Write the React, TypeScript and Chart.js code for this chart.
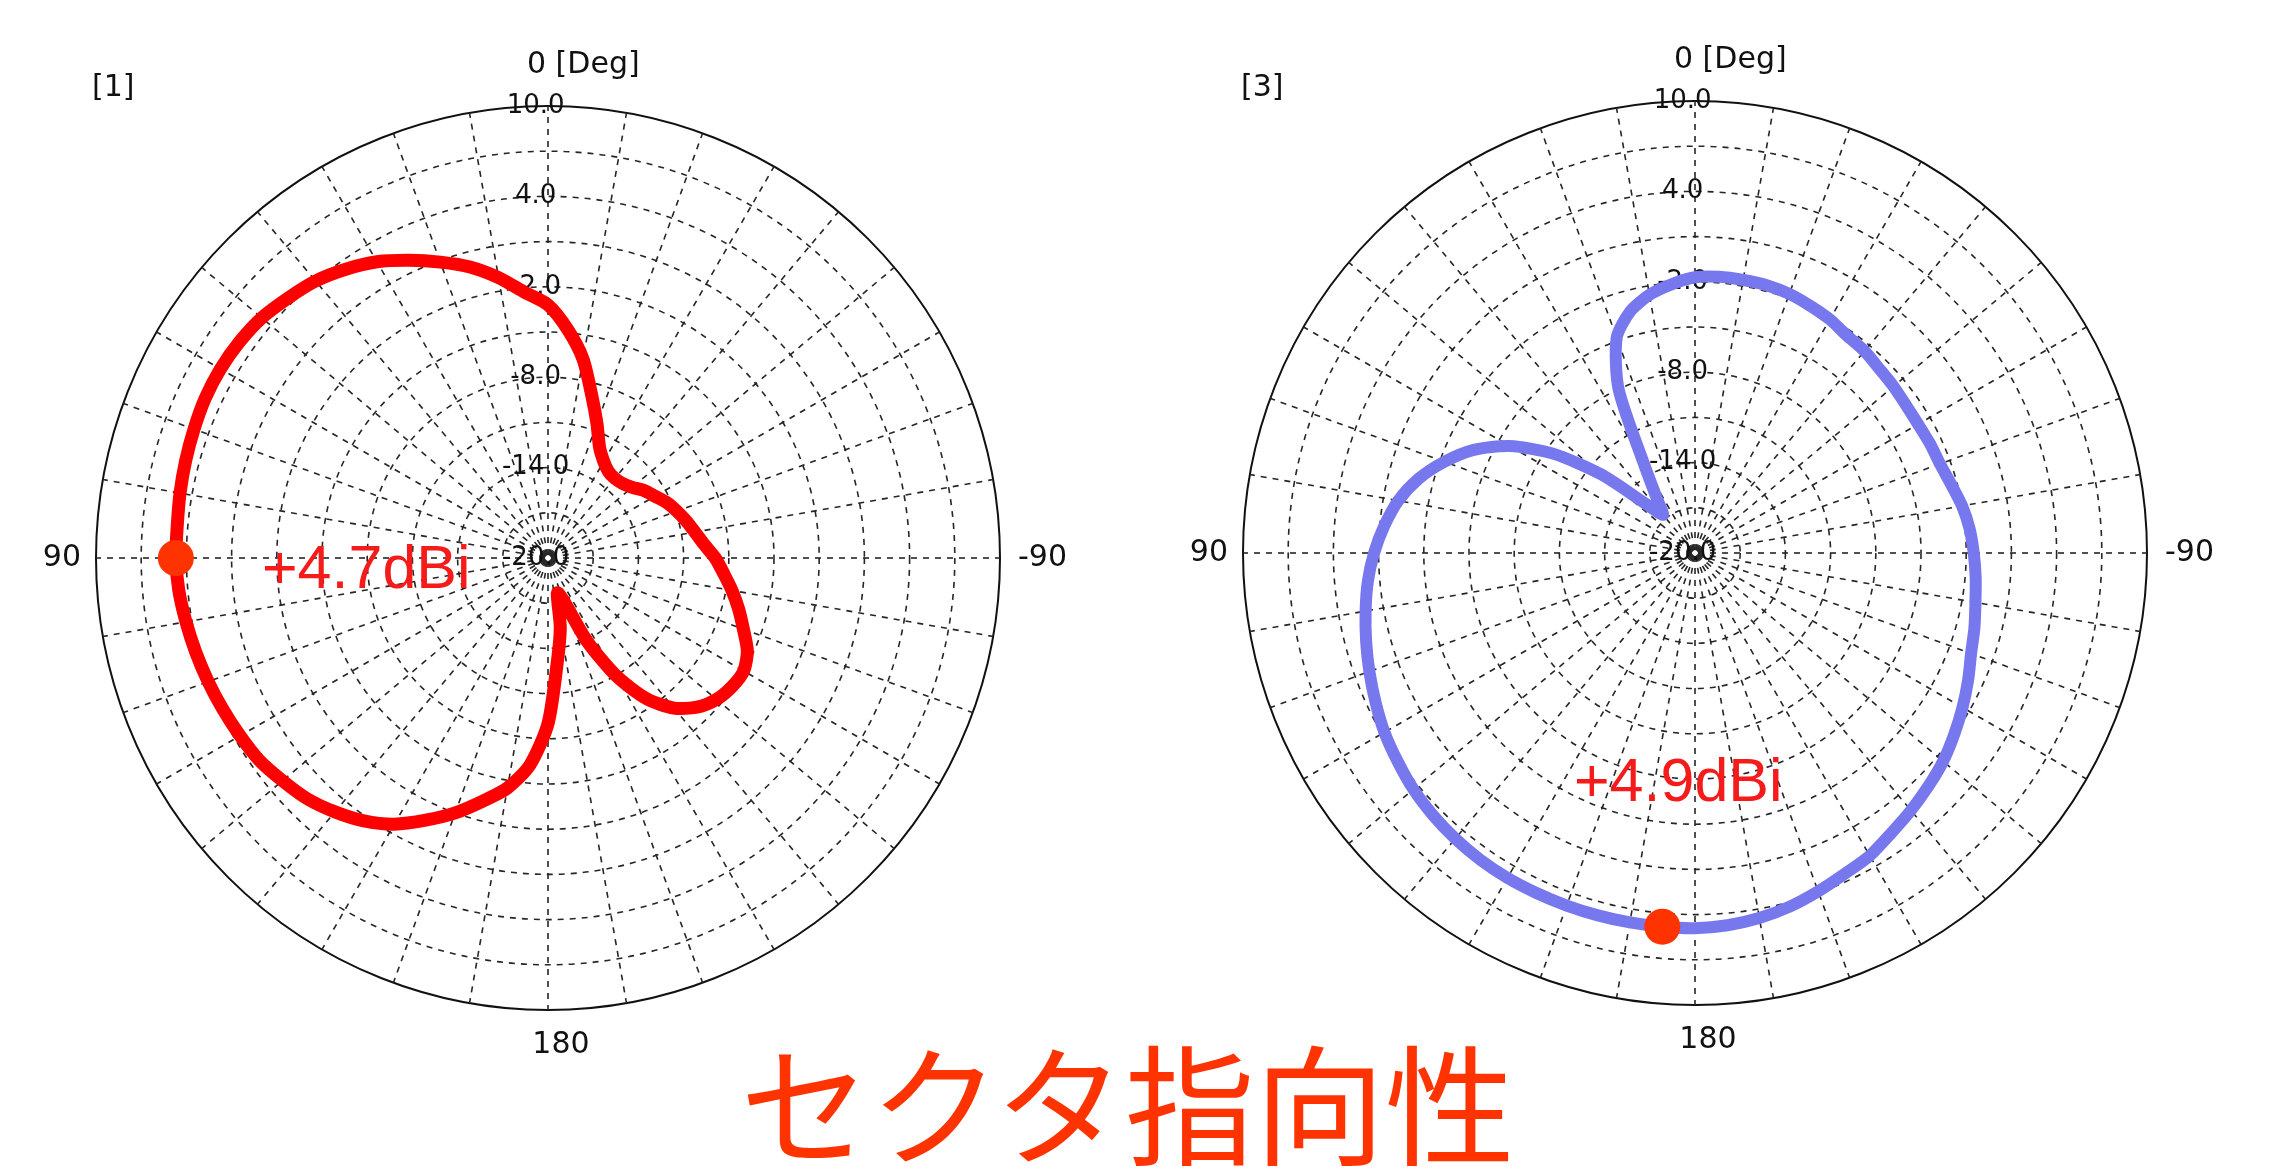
import React, { useEffect, useRef } from 'react';
import { Chart, registerables } from 'chart.js';

Chart.register(...registerables);

// Azimuth (degrees, counter-clockwise from the top, as in the reference)
const ANGLES = [
  0, 5, 10, 15, 20, 25, 30, 35, 40, 45, 50, 55, 60, 65, 70, 75, 80, 85,
  90, 95, 100, 105, 110, 115, 120, 125, 130, 135, 140, 145, 150, 155, 160, 165, 170, 175,
  180, 185, 190, 195, 200, 205, 210, 215, 220, 225, 230, 235, 240, 245, 250, 255, 260, 265,
  270, 275, 280, 285, 290, 295, 300, 305, 310, 315, 320, 325, 330, 335, 340, 345, 350, 355,
];

// Panel [1] gain (dBi) for each angle in ANGLES
const GAIN_1 = [
  -3.2, -2.3, -1.1, 0.0, 0.9, 1.8, 2.7, 3.4, 4.0, 4.4, 4.8, 5.0, 5.1, 5.1, 5.0, 4.9, 4.8, 4.7,
  4.7, 4.6, 4.4, 4.2, 4.0, 3.8, 3.6, 3.4, 3.0, 2.6, 2.0, 1.3, 0.4, -0.8, -2.0, -3.3, -4.5, -6.2,
  -9.0, -13.0, -15.3, -17.6, -17.0, -14.0, -11.0, -8.6, -7.0, -6.0, -5.4, -5.1, -5.0, -5.4, -6.2, -6.9, -7.6, -8.3,
  -8.9, -9.6, -10.1, -10.5, -10.9, -11.3, -11.8, -12.2, -12.7, -13.0, -13.1, -13.0, -12.6, -11.9, -10.5, -8.8, -6.6, -4.8,
];

// Panel [3] gain (dBi) for each angle in ANGLES
const GAIN_3 = [
  -1.7, -2.1, -2.6, -3.4, -4.8, -8.0, -13.3, -15.6, -16.7, -15.4, -11.9, -8.5, -5.8, -3.8, -2.3, -1.0, 0.0, 0.7,
  1.3, 1.8, 2.2, 2.6, 3.0, 3.4, 3.8, 4.1, 4.4, 4.6, 4.75, 4.85, 4.9, 4.9, 4.9, 4.9, 4.9, 4.9,
  4.9, 4.8, 4.6, 4.3, 3.9, 3.5, 3.2, 2.7, 2.3, 1.9, 1.5, 1.0, 0.5, 0.0, -0.5, -0.8, -1.1, -1.3,
  -1.5, -1.7, -2.0, -2.4, -2.7, -2.8, -2.9, -2.9, -2.8, -2.7, -2.5, -2.4, -2.1, -1.9, -1.7, -1.6, -1.6, -1.6,
];

const PEAK_1 = { angle: 90, gain: 4.7, text: '+4.7dBi' };
const PEAK_3 = { angle: 175, gain: 4.9, text: '+4.9dBi' };

const R_MIN = -20;
const R_MAX = 10;
const R_STEP = 3;
const TICK_LABELS = [10, 4, -2, -8, -14, -20];
const DIR_TOP = '0 [Deg]';
const DIR_RIGHT = '-90';
const DIR_BOTTOM = '180';
const DIR_LEFT = '90';
const TITLE = 'セクタ指向性';

const W = 2278;
const H = 1170;
const HALF = 1139;
const RADIUS = 452;
const TICK_SIZE = 26;

type PanelProps = {
  left: number;
  cx: number;
  cy: number;
  gains: number[];
  peak: { angle: number; gain: number; text: string };
  lineColor: string;
  lineWidth: number;
  tag: string;
  tagX: number;
  tagY: number;
  gainX: number;
  gainY: number;
};

const polarText = {
  id: 'polarText',
  afterDatasetsDraw(chart: any, _args: any, opts: any) {
    const s = chart.scales.r;
    const ctx = chart.ctx;
    const r = s.drawingArea;
    ctx.save();
    ctx.fillStyle = '#111';
    ctx.font = '30px "DejaVu Sans"';
    ctx.textBaseline = 'middle';
    ctx.textAlign = 'left';
    ctx.fillText(DIR_TOP, s.xCenter - 21, s.yCenter - r - 41);
    ctx.fillText(DIR_RIGHT, s.xCenter + r + 18, s.yCenter);
    ctx.textAlign = 'right';
    ctx.fillText(DIR_LEFT, s.xCenter - r - 15, s.yCenter);
    ctx.textAlign = 'center';
    ctx.fillText(DIR_BOTTOM, s.xCenter + 13, s.yCenter + r + 35);
    ctx.textAlign = 'left';
    ctx.fillText(opts.tag, opts.tagX, opts.tagY);
    ctx.font = '61px "Liberation Sans"';
    ctx.fillStyle = '#F51B1B';
    ctx.textBaseline = 'alphabetic';
    ctx.fillText(opts.gainText, opts.gainX, opts.gainY);
    ctx.restore();
  },
};

function PolarPanel(p: PanelProps) {
  const ref = useRef<HTMLCanvasElement | null>(null);
  useEffect(() => {
    if (!ref.current) return;
    const n = ANGLES.length;
    // Chart.js goes clockwise; the reference angles go counter-clockwise
    const labels = ANGLES.map((_, i) => ANGLES[(n - i) % n]);
    const values = ANGLES.map((_, i) => p.gains[(n - i) % n]);
    const peakData = labels.map((a) => (a === p.peak.angle ? p.peak.gain : null));
    const pad = RADIUS + TICK_SIZE / 2;
    const localX = p.cx - p.left;
    const chart = new Chart(ref.current, {
      type: 'radar',
      data: {
        labels,
        datasets: [
          {
            data: peakData,
            showLine: false,
            pointRadius: 18,
            pointBackgroundColor: '#FF3300',
            pointBorderWidth: 0,
            borderColor: 'transparent',
          } as any,
          {
            data: values,
            borderColor: p.lineColor,
            borderWidth: p.lineWidth,
            fill: false,
            pointRadius: 0,
            tension: 0.25,
            borderJoinStyle: 'round',
            borderCapStyle: 'round',
          } as any,
        ],
      },
      options: {
        responsive: false,
        animation: false,
        events: [],
        layout: {
          padding: {
            left: localX - pad,
            right: HALF - localX - pad,
            top: p.cy - pad,
            bottom: H - p.cy - pad,
          },
        },
        plugins: {
          legend: { display: false },
          tooltip: { enabled: false },
          polarText: {
            tag: p.tag,
            tagX: p.tagX,
            tagY: p.tagY,
            gainText: p.peak.text,
            gainX: p.gainX,
            gainY: p.gainY,
          },
        } as any,
        scales: {
          r: {
            min: R_MIN,
            max: R_MAX,
            beginAtZero: false,
            ticks: {
              stepSize: R_STEP,
              showLabelBackdrop: false,
              backdropPadding: 0,
              color: '#111',
              font: { family: '"DejaVu Sans"', size: TICK_SIZE },
              callback: (v: any) =>
                TICK_LABELS.includes(Number(v)) ? Number(v).toFixed(1) + '   ' : '',
            },
            grid: {
              circular: true,
              color: (c: any) => (c.tick && c.tick.value === R_MAX ? '#111' : '#262626'),
              lineWidth: (c: any) => (c.tick && c.tick.value === R_MAX ? 2 : 1.6),
            },
            border: {
              dash: (c: any) => (c.tick && c.tick.value === R_MAX ? [] : [6, 6]),
            },
            angleLines: {
              color: '#262626',
              lineWidth: (c: any) => (c.index % 2 === 0 ? 1.6 : 0),
              borderDash: [6, 6],
              borderDashOffset: 9,
            },
            pointLabels: { display: false },
          } as any,
        },
      },
      plugins: [polarText],
    });
    return () => chart.destroy();
  }, []);
  return (
    <canvas
      ref={ref}
      width={HALF}
      height={H}
      style={{ position: 'absolute', left: p.left, top: 0, width: HALF, height: H }}
    />
  );
}

export default function App() {
  return (
    <div
      style={{
        position: 'absolute',
        left: 0,
        top: 0,
        width: W,
        height: H,
        background: '#fff',
        overflow: 'hidden',
      }}
    >
      <PolarPanel
        left={0}
        cx={548}
        cy={558}
        gains={GAIN_1}
        peak={PEAK_1}
        lineColor="#FF0000"
        lineWidth={13}
        tag="[1]"
        tagX={92}
        tagY={88}
        gainX={262}
        gainY={588}
      />
      <PolarPanel
        left={HALF}
        cx={1695}
        cy={553}
        gains={GAIN_3}
        peak={PEAK_3}
        lineColor="#7878EE"
        lineWidth={12}
        tag="[3]"
        tagX={102}
        tagY={88}
        gainX={435}
        gainY={801}
      />
      <div
        style={{
          position: 'absolute',
          left: 740,
          top: 1033,
          fontFamily: '"Noto Sans CJK JP"',
          fontSize: 130,
          lineHeight: '130px',
          color: '#FF3300',
          whiteSpace: 'nowrap',
        }}
      >
        {TITLE}
      </div>
    </div>
  );
}
